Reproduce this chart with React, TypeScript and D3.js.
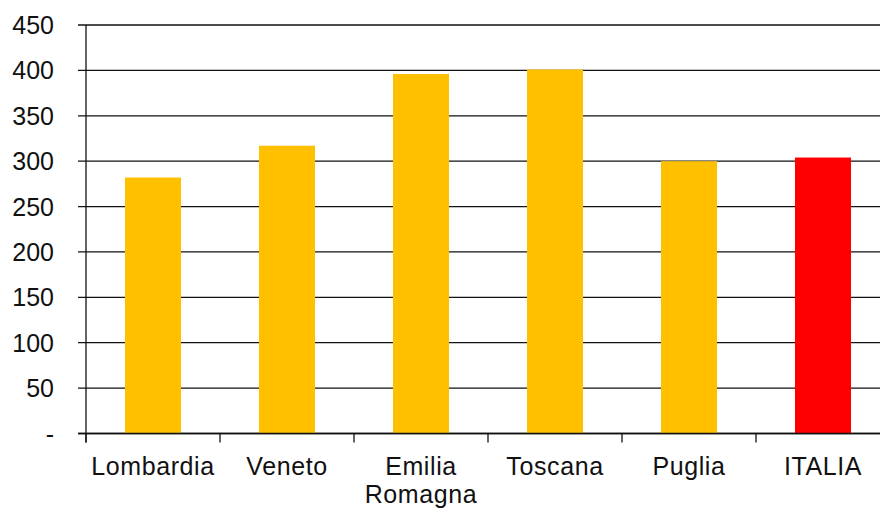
import React from "react";
import * as d3 from "d3";

const categories = ["Lombardia", "Veneto", "Emilia\nRomagna", "Toscana", "Puglia", "ITALIA"];
const values = [282, 317, 396, 401, 300, 304];
const barColors = ["#FFC000", "#FFC000", "#FFC000", "#FFC000", "#FFC000", "#FF0000"];
const yTicks = [0, 50, 100, 150, 200, 250, 300, 350, 400, 450];
const yTickLabels = ["-", "50", "100", "150", "200", "250", "300", "350", "400", "450"];

const W = 880;
const H = 508;
const plotLeft = 86;
const plotRight = 890;
const plotTop = 25;
const plotBottom = 433.5;

export default function App() {
  const x = d3.scaleBand<string>().domain(categories).range([plotLeft, plotRight]).paddingInner(0).paddingOuter(0);
  const y = d3.scaleLinear().domain([0, 450]).range([plotBottom, plotTop]);
  const bw = x.bandwidth() * 0.418;
  const font = "'Liberation Sans', Arial, sans-serif";

  return (
    <svg width={W} height={H} style={{ position: "absolute", left: 0, top: 0, background: "#fff" }} fontFamily={font}>
      <rect x={0} y={0} width={W} height={H} fill="#fff" />
      {yTicks.map((t) => (
        <line key={"g" + t} x1={78} x2={W} y1={y(t)} y2={y(t)} stroke="#111" strokeWidth={1.3} />
      ))}
      {categories.map((c, i) => (
        <rect
          key={c}
          x={(x(c) as number) + (x.bandwidth() - bw) / 2}
          y={y(values[i])}
          width={bw}
          height={y(0) - y(values[i])}
          fill={barColors[i]}
        />
      ))}
      <line x1={78} x2={W} y1={y(0)} y2={y(0)} stroke="#111" strokeWidth={1.3} />
      <line x1={plotLeft} x2={plotLeft} y1={y(450)} y2={y(0) + 9} stroke="#111" strokeWidth={1.3} />
      {categories.map((c) => (
        <line key={"t" + c} x1={x(c) as number} x2={x(c) as number} y1={y(0)} y2={y(0) + 9} stroke="#111" strokeWidth={1.3} />
      ))}
      {yTicks.map((t, i) => (
        <text key={"l" + t} x={54} y={y(t)} dy="0.36em" textAnchor="end" fontSize={25} fill="#111">
          {yTickLabels[i]}
        </text>
      ))}
      {categories.map((c) => {
        const lines = c.split("\n");
        const cx = (x(c) as number) + x.bandwidth() / 2;
        return (
          <text key={"x" + c} x={cx} y={474.5} textAnchor="middle" fontSize={25} letterSpacing={0.6} fill="#111">
            {lines.map((ln, j) => (
              <tspan key={j} x={cx} dy={j === 0 ? 0 : 28.5}>
                {ln}
              </tspan>
            ))}
          </text>
        );
      })}
    </svg>
  );
}
